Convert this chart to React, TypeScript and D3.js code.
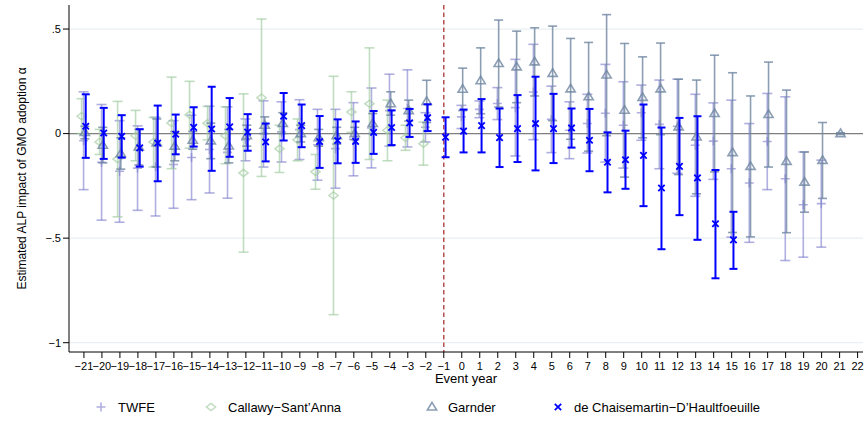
import React from 'react';
import * as d3 from 'd3';

const W = 865;
const H = 421;

// Axis ticks
const yTicks = [0.5, 0, -0.5, -1];
const yTickLabels = ['.5', '0', '−.5', '−1'];
const xTicks = [-21, -20, -19, -18, -17, -16, -15, -14, -13, -12, -11, -10, -9, -8, -7, -6, -5, -4, -3, -2, -1, 0, 1, 2, 3, 4, 5, 6, 7, 8, 9, 10, 11, 12, 13, 14, 15, 16, 17, 18, 19, 20, 21, 22];

// TWFE
const twfeYear = [-21, -20, -19, -18, -17, -16, -15, -14, -13, -12, -11, -10, -9, -8, -7, -6, -5, -4, -3, -2, 0, 1, 2, 3, 4, 5, 6, 7, 8, 9, 10, 11, 12, 13, 14, 15, 16, 17, 18, 19, 20];
const twfeEst = [-0.034, -0.137, -0.18, -0.165, -0.158, -0.148, -0.114, -0.076, -0.09, -0.03, 0.0, 0.008, 0.019, -0.053, -0.072, -0.027, 0.027, 0.11, 0.12, 0.03, 0.08, 0.116, 0.144, 0.124, 0.199, 0.068, 0.016, 0.048, 0.097, 0.04, 0.1, 0.044, 0.035, -0.056, -0.036, -0.168, -0.236, -0.038, -0.216, -0.34, -0.335];
const twfeLo = [-0.268, -0.414, -0.424, -0.367, -0.394, -0.357, -0.316, -0.284, -0.309, -0.13, -0.16, -0.136, -0.124, -0.223, -0.261, -0.202, -0.164, -0.06, -0.064, -0.04, 0.024, 0.076, 0.067, -0.107, -0.029, -0.091, -0.12, -0.093, -0.136, -0.165, -0.032, -0.168, -0.19, -0.3, -0.219, -0.495, -0.52, -0.268, -0.607, -0.591, -0.543];
const twfeHi = [0.2, 0.139, 0.062, 0.037, 0.078, 0.062, 0.088, 0.131, 0.128, 0.07, 0.157, 0.152, 0.162, 0.116, 0.116, 0.148, 0.218, 0.284, 0.305, 0.1, 0.135, 0.156, 0.22, 0.355, 0.427, 0.227, 0.152, 0.188, 0.331, 0.248, 0.232, 0.256, 0.26, 0.188, 0.147, 0.16, 0.048, 0.192, 0.176, -0.088, -0.127];

// Callaway-Sant'Anna
const csYear = [-21, -20, -19, -18, -17, -16, -15, -14, -13, -12, -11, -10, -9, -8, -7, -6, -5, -4, -3, -2];
const csEst = [0.083, -0.04, -0.122, -0.01, -0.04, 0.051, 0.09, 0.05, -0.01, -0.188, 0.172, -0.072, -0.03, -0.183, -0.296, 0.103, 0.143, 0.016, -0.02, -0.048];
const csLo = [0.0, -0.1, -0.398, -0.13, -0.16, -0.168, -0.07, -0.03, -0.144, -0.567, -0.205, -0.186, -0.13, -0.266, -0.866, 0.006, -0.124, -0.13, -0.08, -0.151];
const csHi = [0.167, 0.02, 0.154, 0.111, 0.077, 0.27, 0.25, 0.13, 0.128, 0.19, 0.548, 0.04, 0.07, -0.1, 0.274, 0.2, 0.41, 0.16, 0.04, 0.055];

// Gardner
const gaYear = [-21, -20, -19, -18, -17, -16, -15, -14, -13, -12, -11, -10, -9, -8, -7, -6, -5, -4, -3, -2, 0, 1, 2, 3, 4, 5, 6, 7, 8, 9, 10, 11, 12, 13, 14, 15, 16, 17, 18, 19, 20, 21];
const gaEst = [0.005, -0.056, -0.096, -0.064, -0.045, -0.06, -0.032, -0.035, -0.059, -0.01, 0.04, 0.048, 0.0, -0.02, -0.01, 0.0, 0.048, 0.143, 0.11, 0.154, 0.212, 0.253, 0.335, 0.319, 0.343, 0.288, 0.214, 0.176, 0.28, 0.112, 0.173, 0.214, 0.032, -0.016, 0.096, -0.091, -0.157, 0.091, -0.133, -0.232, -0.128, 0.0];
const gaLo = [-0.025, -0.14, -0.17, -0.15, -0.16, -0.13, -0.075, -0.12, -0.14, -0.06, 0.0, 0.0, -0.04, -0.06, -0.05, -0.03, 0.0, 0.088, 0.06, 0.053, 0.11, 0.095, 0.127, 0.148, 0.18, 0.062, -0.027, -0.084, -0.01, -0.208, -0.02, -0.005, -0.196, -0.288, -0.183, -0.473, -0.494, -0.16, -0.474, -0.376, -0.31, -0.004];
const gaHi = [0.035, 0.03, -0.02, 0.02, 0.07, 0.01, 0.01, 0.05, 0.02, 0.04, 0.08, 0.1, 0.04, 0.02, 0.03, 0.03, 0.096, 0.2, 0.16, 0.255, 0.313, 0.41, 0.543, 0.49, 0.506, 0.514, 0.455, 0.436, 0.569, 0.431, 0.367, 0.433, 0.26, 0.256, 0.375, 0.291, 0.18, 0.342, 0.208, -0.088, 0.053, 0.004];

// de Chaisemartin-D'Haultfoeuille
const dcYear = [-21, -20, -19, -18, -17, -16, -15, -14, -13, -12, -11, -10, -9, -8, -7, -6, -5, -4, -3, -2, -1, 0, 1, 2, 3, 4, 5, 6, 7, 8, 9, 10, 11, 12, 13, 14, 15];
const dcEst = [0.035, 0.003, -0.013, -0.068, -0.045, -0.003, 0.03, 0.022, 0.032, 0.007, -0.04, 0.083, 0.038, -0.038, -0.033, -0.037, 0.006, 0.029, 0.051, 0.076, -0.017, 0.012, 0.038, -0.019, 0.024, 0.048, 0.024, 0.027, -0.032, -0.137, -0.125, -0.104, -0.26, -0.157, -0.212, -0.431, -0.508];
const dcLo = [-0.116, -0.121, -0.115, -0.158, -0.228, -0.099, -0.062, -0.178, -0.111, -0.082, -0.133, -0.033, -0.065, -0.164, -0.142, -0.14, -0.097, -0.055, -0.016, 0.012, -0.113, -0.09, -0.09, -0.16, -0.136, -0.176, -0.141, -0.067, -0.18, -0.281, -0.264, -0.347, -0.553, -0.39, -0.508, -0.692, -0.647];
const dcHi = [0.188, 0.123, 0.088, 0.021, 0.134, 0.091, 0.126, 0.224, 0.17, 0.093, 0.048, 0.194, 0.139, 0.084, 0.068, 0.058, 0.108, 0.111, 0.118, 0.14, 0.078, 0.115, 0.165, 0.12, 0.184, 0.272, 0.19, 0.12, 0.118, 0.006, 0.014, 0.139, 0.029, 0.075, 0.083, -0.174, -0.374];

const legendLabels = ['TWFE', 'Callawy−Sant’Anna', 'Garnder', 'de Chaisemartin−D’Haultfoeuille'];

type Series = {
  year: number[];
  est: number[];
  lo: number[];
  hi: number[];
  color: string;
  opacity: number;
  width: number;
  cap: number;
  offset: number;
  marker: string;
  markerWidth: number;
};

const PLUS = 'M-4.5,0H4.5M0,-4.5V4.5';
const DIAMOND = 'M0,-3.6L4.6,0L0,3.6L-4.6,0Z';
const TRIANGLE = 'M0,-4.6L4.6,3L-4.6,3Z';
const CROSS = 'M-3.2,-3.2L3.2,3.2M-3.2,3.2L3.2,-3.2';

export default function App() {
  const left = 69;
  const right = 863;
  const top = 5;
  const bottom = 352;
  const x = d3.scaleLinear().domain([-21.83, 22.3]).range([left, right]);
  const y = d3.scaleLinear().domain([-1.0445, 0.615]).range([bottom, top]);

  const series: Series[] = [
    { year: twfeYear, est: twfeEst, lo: twfeLo, hi: twfeHi, color: '#7a7acc', opacity: 0.6, width: 1.6, cap: 5, offset: -0.02, marker: PLUS, markerWidth: 1.6 },
    { year: csYear, est: csEst, lo: csLo, hi: csHi, color: '#9fcb9f', opacity: 0.65, width: 1.6, cap: 5, offset: -0.13, marker: DIAMOND, markerWidth: 1.5 },
    { year: gaYear, est: gaEst, lo: gaLo, hi: gaHi, color: '#6f86a0', opacity: 0.8, width: 1.6, cap: 4.5, offset: 0.05, marker: TRIANGLE, markerWidth: 1.6 },
    { year: dcYear, est: dcEst, lo: dcLo, hi: dcHi, color: '#0000ff', opacity: 1, width: 2, cap: 4, offset: 0.1, marker: CROSS, markerWidth: 1.8 },
  ];

  const font = '"Liberation Sans", Arial, Helvetica, sans-serif';
  const fmt = (k: number) => (k < 0 ? '−' + Math.abs(k) : String(k));

  const legendX = [101, 211, 432, 558];
  const legendTextX = [118, 228, 448, 574];
  const legendY = 407;

  return (
    <svg width={W} height={H} style={{ position: 'absolute', left: 0, top: 0, background: '#fff' }} fontFamily={font}>
      <rect x={0} y={0} width={W} height={H} fill="#ffffff" />
      {yTicks.map((t) => (
        <line key={'g' + t} x1={left} x2={right} y1={y(t)} y2={y(t)} stroke="#e9f0f2" strokeWidth={1.2} />
      ))}
      <line x1={left} x2={right} y1={y(0)} y2={y(0)} stroke="#808080" strokeWidth={1.3} />
      <line x1={x(-1)} x2={x(-1)} y1={top} y2={bottom} stroke="#b55050" strokeWidth={1.5} strokeDasharray="4.5,3" />

      {series.map((s, si) => (
        <g key={'s' + si} stroke={s.color} strokeOpacity={s.opacity} fill="none">
          {s.year.map((k, i) => {
            const cx = x(k + s.offset);
            return (
              <g key={i}>
                <line x1={cx} x2={cx} y1={y(s.lo[i])} y2={y(s.hi[i])} strokeWidth={s.width} />
                <line x1={cx - s.cap} x2={cx + s.cap} y1={y(s.lo[i])} y2={y(s.lo[i])} strokeWidth={s.width} />
                <line x1={cx - s.cap} x2={cx + s.cap} y1={y(s.hi[i])} y2={y(s.hi[i])} strokeWidth={s.width} />
                <path d={s.marker} transform={`translate(${cx},${y(s.est[i])})`} strokeWidth={s.markerWidth} fill="none" />
              </g>
            );
          })}
        </g>
      ))}

      <line x1={left} x2={left} y1={top} y2={bottom} stroke="#000" strokeWidth={1} />
      <line x1={left} x2={right} y1={bottom} y2={bottom} stroke="#000" strokeWidth={1} />
      {yTicks.map((t, i) => (
        <g key={'yt' + t}>
          <line x1={left - 6} x2={left} y1={y(t)} y2={y(t)} stroke="#000" strokeWidth={1} />
          <text x={left - 8} y={y(t)} dy="0.35em" textAnchor="end" fontSize={11} fill="#000">
            {yTickLabels[i]}
          </text>
        </g>
      ))}
      {xTicks.map((k) => (
        <g key={'xt' + k}>
          <line x1={x(k)} x2={x(k)} y1={bottom} y2={bottom + 6} stroke="#000" strokeWidth={1} />
          <text x={x(k)} y={bottom + 18} textAnchor="middle" fontSize={11} fill="#000">
            {fmt(k)}
          </text>
        </g>
      ))}
      <text x={(left + right) / 2} y={383} textAnchor="middle" fontSize={13} fill="#000">
        Event year
      </text>
      <text transform={`translate(26,${(top + bottom) / 2}) rotate(-90)`} textAnchor="middle" fontSize={12} fill="#000">
        Estimated ALP impact of GMO adoption α
      </text>

      {series.map((s, i) => (
        <g key={'l' + i}>
          <path d={s.marker} transform={`translate(${legendX[i]},${legendY})`} stroke={s.color} strokeOpacity={s.opacity} strokeWidth={s.markerWidth} fill="none" />
          <text x={legendTextX[i]} y={legendY} dy="0.36em" fontSize={13} fill="#000">
            {legendLabels[i]}
          </text>
        </g>
      ))}
    </svg>
  );
}
